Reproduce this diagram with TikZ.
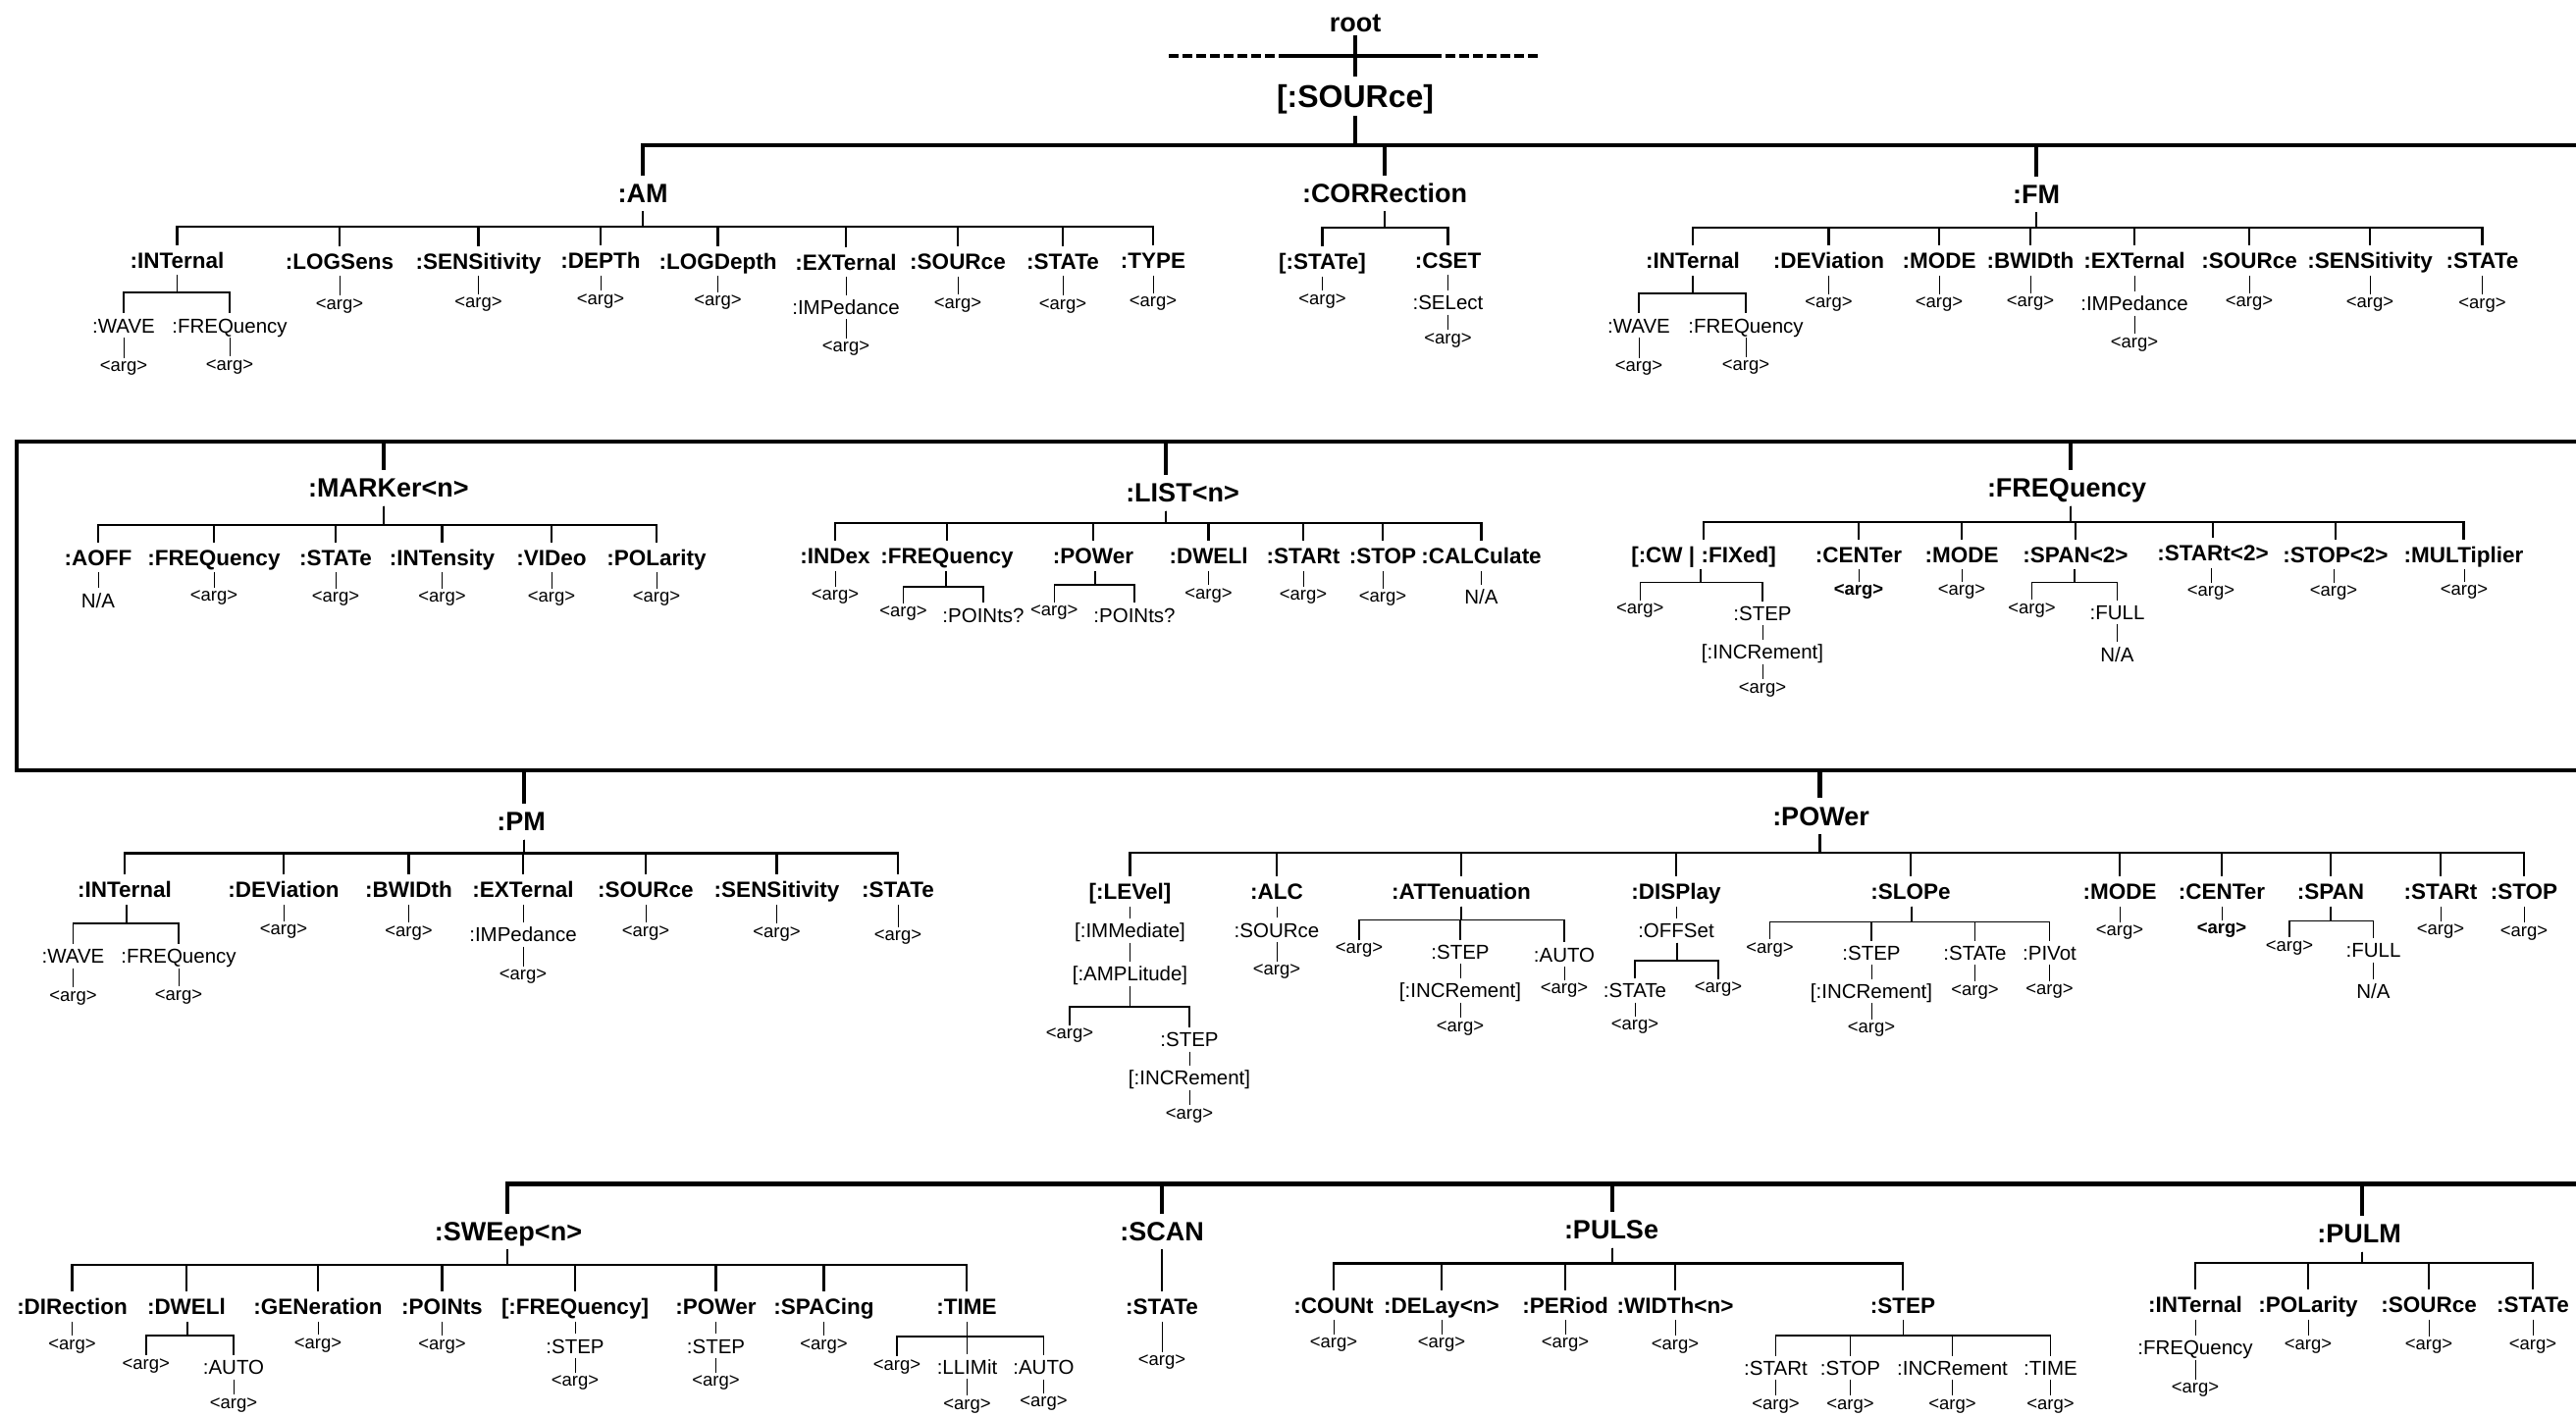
\documentclass[tikz,border=0pt]{standalone}
\usepackage{fontspec}
\setmainfont{Liberation Sans}
\newcommand{\tbar}[4]{\foreach \c in {#4}{\draw[#1] (#3 |- #2.south) -- (#3) -| (\c.north);}}
\newcommand{\lk}[3]{\draw[#1] (#3.north |- #2.south) -- (#3.north);}
\begin{document}
\begin{tikzpicture}[x=0.5pt,y=-0.5pt,
  sSrc/.style={font=\bfseries\fontsize{16}{18}\selectfont, inner xsep=1pt, inner ysep=1pt, text height=14.7pt, text depth=3.3pt},
  sRoot/.style={font=\bfseries\fontsize{13.5}{15}\selectfont, inner xsep=1pt, inner ysep=0.5pt, text height=10.5pt, text depth=1pt},
  sHdr/.style={font=\bfseries\fontsize{13.5}{15}\selectfont, inner xsep=1pt, inner ysep=1pt, text height=12.8pt, text depth=3.2pt},
  sCmd/.style={font=\bfseries\fontsize{11.25}{13}\selectfont, inner xsep=1pt, inner ysep=1pt, text height=10.5pt, text depth=2.5pt},
  sSub/.style={font=\fontsize{10.25}{12}\selectfont, inner xsep=1pt, inner ysep=0.8pt, text height=8.9pt, text depth=1.5pt},
  sArg/.style={font=\fontsize{9.25}{11}\selectfont, inner xsep=1pt, inner ysep=0.5pt, text height=6.3pt, text depth=2.7pt},
  sArgB/.style={sArg, font=\bfseries\fontsize{9.25}{11}\selectfont},
  sMain/.style={line width=2.3pt},
  sLv1/.style={line width=1.2pt},
  sLv2/.style={line width=0.8pt},
  sLf/.style={line width=0.5pt}
]
\useasboundingbox (0,0) rectangle (2625,1442);

% ---------------- top ----------------
\node[sRoot] (root) at (1381,23) {root};
\node[sSrc] (SRC) at (1381,98) {[:SOURce]};
\coordinate (dL) at (1191,57); \coordinate (sL) at (1303,57);
\coordinate (sR) at (1459,57); \coordinate (dR) at (1570,57);
\coordinate (mainR) at (2625,148);

\node[sHdr] (AM) at (655,197) {:AM};
\node[sHdr] (CORR) at (1411,197) {:CORRection};
\node[sHdr] (FM) at (2075,198) {:FM};

% AM
\coordinate (bAM) at (655,231);
\node[sCmd] (amINT) at (180.5,265) {:INTernal};
\node[sCmd] (amLOGS) at (346,266) {:LOGSens};
\node[sCmd] (amSENS) at (487.5,266) {:SENSitivity};
\node[sCmd] (amDEP) at (612,265.5) {:DEPTh};
\node[sCmd] (amLOGD) at (731.5,266) {:LOGDepth};
\node[sCmd] (amEXT) at (862,267) {:EXTernal};
\node[sCmd] (amSRC) at (976,266.5) {:SOURce};
\node[sCmd] (amSTA) at (1083,266) {:STATe};
\node[sCmd] (amTYP) at (1175,265.5) {:TYPE};
\coordinate (bAMI) at (180.5,298);
\node[sSub] (amW) at (126,331.7) {:WAVE};
\node[sSub] (amF) at (234,331.7) {:FREQuency};
\node[sArg] (amWa) at (126,375) {<arg>};
\node[sArg] (amFa) at (234,373.5) {<arg>};
\node[sArg] (amLOGSa) at (346,311.7) {<arg>};
\node[sArg] (amSENSa) at (487.5,310) {<arg>};
\node[sArg] (amDEPa) at (612,306.7) {<arg>};
\node[sArg] (amLOGDa) at (731.5,308.3) {<arg>};
\node[sSub] (amEXTi) at (862,313) {:IMPedance};
\node[sArg] (amEXTa) at (862,355) {<arg>};
\node[sArg] (amSRCa) at (976,310.7) {<arg>};
\node[sArg] (amSTAa) at (1083,311.7) {<arg>};
\node[sArg] (amTYPa) at (1175,309) {<arg>};

% CORRection
\coordinate (bCO) at (1411,231.7);
\node[sCmd] (coSTA) at (1347.5,266.7) {[:STATe]};
\node[sCmd] (coCSET) at (1475.5,265) {:CSET};
\node[sArg] (coSTAa) at (1347.5,306.7) {<arg>};
\node[sSub] (coSEL) at (1475.5,308.3) {:SELect};
\node[sArg] (coSELa) at (1475.5,346.7) {<arg>};

% FM
\coordinate (bFM) at (2075,231.7);
\node[sCmd] (fmINT) at (1725,265.7) {:INTernal};
\node[sCmd] (fmDEV) at (1863.5,265.7) {:DEViation};
\node[sCmd] (fmMODE) at (1976,265.7) {:MODE};
\node[sCmd] (fmBW) at (2069,265.7) {:BWIDth};
\node[sCmd] (fmEXT) at (2175,265.7) {:EXTernal};
\node[sCmd] (fmSRC) at (2292,265.7) {:SOURce};
\node[sCmd] (fmSENS) at (2415,265.7) {:SENSitivity};
\node[sCmd] (fmSTA) at (2529.5,265.7) {:STATe};
\coordinate (bFMI) at (1725,299);
\node[sSub] (fmW) at (1670,331.7) {:WAVE};
\node[sSub] (fmF) at (1779,331.7) {:FREQuency};
\node[sArg] (fmWa) at (1670,375) {<arg>};
\node[sArg] (fmFa) at (1779,374) {<arg>};
\node[sArg] (fmDEVa) at (1863.5,310) {<arg>};
\node[sArg] (fmMODEa) at (1976,310) {<arg>};
\node[sArg] (fmBWa) at (2069,309.3) {<arg>};
\node[sSub] (fmEXTi) at (2175,309.3) {:IMPedance};
\node[sArg] (fmEXTa) at (2175,350.7) {<arg>};
\node[sArg] (fmSRCa) at (2292,309.3) {<arg>};
\node[sArg] (fmSENSa) at (2415,310) {<arg>};
\node[sArg] (fmSTAa) at (2529.5,310.7) {<arg>};

% ---------------- frame ----------------
\coordinate (frTR) at (2625,450); \coordinate (frTL) at (17,450);
\coordinate (frBL) at (17,785); \coordinate (frBR) at (2625,785);

% MARKer
\node[sHdr] (MARK) at (396,497.3) {:MARKer<n>};
\coordinate (bMK) at (391,535);
\node[sCmd] (mkAOFF) at (100,568) {:AOFF};
\node[sCmd] (mkFREQ) at (218,568) {:FREQuency};
\node[sCmd] (mkSTA) at (342,568) {:STATe};
\node[sCmd] (mkINT) at (450.5,568) {:INTensity};
\node[sCmd] (mkVID) at (562,568) {:VIDeo};
\node[sCmd] (mkPOL) at (669,568) {:POLarity};
\node[sSub] (mkAOFFa) at (100,611.7) {N/A};
\node[sArg] (mkFREQa) at (218,609.3) {<arg>};
\node[sArg] (mkSTAa) at (342,610) {<arg>};
\node[sArg] (mkINTa) at (450.5,610) {<arg>};
\node[sArg] (mkVIDa) at (562,610) {<arg>};
\node[sArg] (mkPOLa) at (669,610) {<arg>};

% LIST
\node[sHdr] (LIST) at (1205,502.3) {:LIST<n>};
\coordinate (bLI) at (1188,532.7);
\node[sCmd] (liIDX) at (851,566.7) {:INDex};
\node[sCmd] (liFREQ) at (965,566.7) {:FREQuency};
\node[sCmd] (liPOW) at (1114,566.7) {:POWer};
\node[sCmd] (liDW) at (1231.5,566.7) {:DWELl};
\node[sCmd] (liSTA) at (1328,566.7) {:STARt};
\node[sCmd] (liSTO) at (1409,566.7) {:STOP};
\node[sCmd] (liCAL) at (1509.5,566.7) {:CALCulate};
\node[sArg] (liIDXa) at (851,608.3) {<arg>};
\coordinate (bLIF) at (964,597.7);
\node[sArg] (liFa) at (920.5,625) {<arg>};
\node[sSub] (liFp) at (1002,626.7) {:POINts?};
\coordinate (bLIP) at (1116,596);
\node[sArg] (liPa) at (1074.3,624) {<arg>};
\node[sSub] (liPp) at (1156,626.7) {:POINts?};
\node[sArg] (liDWa) at (1231.5,606.7) {<arg>};
\node[sArg] (liSTAa) at (1328,608.3) {<arg>};
\node[sArg] (liSTOa) at (1409,610) {<arg>};
\node[sSub] (liCALa) at (1509.5,608.3) {N/A};

% FREQuency
\node[sHdr] (FRQ) at (2106,497.3) {:FREQuency};
\coordinate (bFR) at (2110,531.7);
\node[sCmd] (frCW) at (1736,565) {[:CW | :FIXed]};
\node[sCmd] (frCEN) at (1894,565) {:CENTer};
\node[sCmd] (frMODE) at (1999,565) {:MODE};
\node[sCmd] (frSPAN) at (2115,565) {:SPAN<2>};
\node[sCmd] (frSTA) at (2255,563.5) {:STARt<2>};
\node[sCmd] (frSTO) at (2380,565) {:STOP<2>};
\node[sCmd] (frMUL) at (2510.5,565) {:MULTiplier};
\coordinate (bFRC) at (1733,593.3);
\node[sArg] (frCWa) at (1671.3,622.3) {<arg>};
\node[sSub] (frSTEP) at (1796,625) {:STEP};
\node[sSub] (frINC) at (1796,664.3) {[:INCRement]};
\node[sArg] (frINCa) at (1796,702.7) {<arg>};
\node[sArgB] (frCENa) at (1894,603.3) {<arg>};
\node[sArg] (frMODEa) at (1999,603.3) {<arg>};
\coordinate (bFRS) at (2114,593.3);
\node[sArg] (frSPa) at (2070.5,621.7) {<arg>};
\node[sSub] (frFULL) at (2157.5,624) {:FULL};
\node[sSub] (frNA) at (2157.5,666.7) {N/A};
\node[sArg] (frSTAa) at (2253,604.3) {<arg>};
\node[sArg] (frSTOa) at (2378,604.3) {<arg>};
\node[sArg] (frMULa) at (2511,603.3) {<arg>};

% PM
\node[sHdr] (PM) at (531,837.3) {:PM};
\coordinate (bPM) at (534,869.3);
\node[sCmd] (pmINT) at (127,906.7) {:INTernal};
\node[sCmd] (pmDEV) at (289,906.7) {:DEViation};
\node[sCmd] (pmBW) at (416.5,906.7) {:BWIDth};
\node[sCmd] (pmEXT) at (533,906.7) {:EXTernal};
\node[sCmd] (pmSRC) at (658,906.7) {:SOURce};
\node[sCmd] (pmSENS) at (791.5,906.7) {:SENSitivity};
\node[sCmd] (pmSTA) at (915,906.7) {:STATe};
\coordinate (bPMI) at (129,941);
\node[sSub] (pmW) at (74.5,974.3) {:WAVE};
\node[sSub] (pmF) at (182,974.3) {:FREQuency};
\node[sArg] (pmWa) at (74.5,1016.7) {<arg>};
\node[sArg] (pmFa) at (182,1015.7) {<arg>};
\node[sArg] (pmDEVa) at (289,949.3) {<arg>};
\node[sArg] (pmBWa) at (416.5,950.7) {<arg>};
\node[sSub] (pmEXTi) at (533,952.3) {:IMPedance};
\node[sArg] (pmEXTa) at (533,995) {<arg>};
\node[sArg] (pmSRCa) at (658,950.7) {<arg>};
\node[sArg] (pmSENSa) at (791.5,951.7) {<arg>};
\node[sArg] (pmSTAa) at (915,955) {<arg>};

% POWer
\node[sHdr] (POW) at (1855.5,831.7) {:POWer};
\coordinate (bPO) at (1854.5,869);
\node[sCmd] (poLEV) at (1151.5,908.3) {[:LEVel]};
\node[sCmd] (poALC) at (1301,908.3) {:ALC};
\node[sCmd] (poATT) at (1489,908.3) {:ATTenuation};
\node[sCmd] (poDISP) at (1708,908.3) {:DISPlay};
\node[sCmd] (poSLO) at (1947,908.3) {:SLOPe};
\node[sCmd] (poMODE) at (2160,908.3) {:MODE};
\node[sCmd] (poCEN) at (2264,908.3) {:CENTer};
\node[sCmd] (poSPAN) at (2375,908.3) {:SPAN};
\node[sCmd] (poSTA) at (2487,908.3) {:STARt};
\node[sCmd] (poSTO) at (2572,908.3) {:STOP};
\node[sSub] (poIMM) at (1151.5,948.3) {[:IMMediate]};
\node[sSub] (poAMP) at (1151.5,992.3) {[:AMPLitude]};
\coordinate (bPOA) at (1151.5,1026);
\node[sArg] (poAa) at (1090,1055) {<arg>};
\node[sSub] (poAS) at (1212,1059.3) {:STEP};
\node[sSub] (poAI) at (1212,1098.3) {[:INCRement]};
\node[sArg] (poAIa) at (1212,1136.7) {<arg>};
\node[sSub] (poALCs) at (1301,947.7) {:SOURce};
\node[sArg] (poALCa) at (1301,990) {<arg>};
\coordinate (bPOT) at (1489,937.3);
\node[sArg] (poTa) at (1385,968.3) {<arg>};
\node[sSub] (poTS) at (1488,970) {:STEP};
\node[sSub] (poTU) at (1594,972.7) {:AUTO};
\node[sSub] (poTI) at (1488,1009.3) {[:INCRement]};
\node[sArg] (poTIa) at (1488,1047.7) {<arg>};
\node[sArg] (poTUa) at (1594,1009.3) {<arg>};
\node[sSub] (poOFF) at (1708,948.3) {:OFFSet};
\coordinate (bPOO) at (1709,979);
\node[sSub] (poOS) at (1666,1009.3) {:STATe};
\node[sArg] (poOa) at (1751,1008.3) {<arg>};
\node[sArg] (poOSa) at (1666,1046) {<arg>};
\coordinate (bPOS) at (1948,939.3);
\node[sArg] (poSa) at (1803.5,967.7) {<arg>};
\node[sSub] (poSS) at (1907,971) {:STEP};
\node[sSub] (poST) at (2012.5,971) {:STATe};
\node[sSub] (poSP) at (2088.5,971) {:PIVot};
\node[sSub] (poSI) at (1907,1010) {[:INCRement]};
\node[sArg] (poSIa) at (1907,1049.3) {<arg>};
\node[sArg] (poSTa) at (2012.5,1010.7) {<arg>};
\node[sArg] (poSPa) at (2088.5,1010) {<arg>};
\node[sArg] (poMODEa) at (2160,950) {<arg>};
\node[sArgB] (poCENa) at (2264,948.3) {<arg>};
\coordinate (bPOP) at (2375,938.3);
\node[sArg] (poPa) at (2333,965.7) {<arg>};
\node[sSub] (poPF) at (2418.5,968.3) {:FULL};
\node[sSub] (poPNA) at (2418.5,1010) {N/A};
\node[sArg] (poSTAa) at (2487,949.3) {<arg>};
\node[sArg] (poSTOa) at (2572,950.7) {<arg>};

% ---------------- bottom section ----------------
\coordinate (s4R) at (2625,1206.7);
\node[sHdr] (SWE) at (518,1255) {:SWEep<n>};
\coordinate (bSW) at (517,1289);
\node[sCmd] (swDIR) at (73.5,1331.7) {:DIRection};
\node[sCmd] (swDW) at (190,1331.7) {:DWELl};
\node[sCmd] (swGEN) at (324,1331.7) {:GENeration};
\node[sCmd] (swPTS) at (450.5,1331.7) {:POINts};
\node[sCmd] (swFRQ) at (586,1331.7) {[:FREQuency]};
\node[sCmd] (swPOW) at (729.5,1331.7) {:POWer};
\node[sCmd] (swSPC) at (839.5,1331.7) {:SPACing};
\node[sCmd] (swTIM) at (985,1331.7) {:TIME};
\node[sArg] (swDIRa) at (73.5,1371.7) {<arg>};
\coordinate (bSWD) at (191,1360.7);
\node[sArg] (swDa) at (148.7,1391.7) {<arg>};
\node[sSub] (swDu) at (238,1393.3) {:AUTO};
\node[sArg] (swDua) at (238,1431.7) {<arg>};
\node[sArg] (swGENa) at (324,1370.7) {<arg>};
\node[sArg] (swPTSa) at (450.5,1371.7) {<arg>};
\node[sSub] (swFs) at (586,1371.7) {:STEP};
\node[sArg] (swFa) at (586,1409.3) {<arg>};
\node[sSub] (swPs) at (729.5,1371.7) {:STEP};
\node[sArg] (swPa) at (729.5,1409.3) {<arg>};
\node[sArg] (swSPCa) at (839.5,1371.7) {<arg>};
\coordinate (bSWT) at (985.5,1361.7);
\node[sArg] (swTa) at (914,1392.7) {<arg>};
\node[sSub] (swTL) at (985.5,1392.7) {:LLIMit};
\node[sSub] (swTU) at (1063.5,1393.3) {:AUTO};
\node[sArg] (swTLa) at (985.5,1432.5) {<arg>};
\node[sArg] (swTUa) at (1063.5,1430) {<arg>};

\node[sHdr] (SCAN) at (1184,1255) {:SCAN};
\node[sCmd] (scSTA) at (1184,1331.7) {:STATe};
\node[sArg] (scSTAa) at (1184,1388.3) {<arg>};

\node[sHdr] (PUL) at (1642,1253.3) {:PULSe};
\coordinate (bPU) at (1643,1287.3);
\node[sCmd] (puCNT) at (1359,1330) {:COUNt};
\node[sCmd] (puDEL) at (1469,1330) {:DELay<n>};
\node[sCmd] (puPER) at (1595,1330) {:PERiod};
\node[sCmd] (puWID) at (1707,1330) {:WIDTh<n>};
\node[sCmd] (puSTP) at (1939,1330) {:STEP};
\node[sArg] (puCNTa) at (1359,1370) {<arg>};
\node[sArg] (puDELa) at (1469,1370) {<arg>};
\node[sArg] (puPERa) at (1595,1370) {<arg>};
\node[sArg] (puWIDa) at (1707,1371.7) {<arg>};
\coordinate (bPUS) at (1939.5,1361);
\node[sSub] (psSTA) at (1809.5,1394) {:STARt};
\node[sSub] (psSTO) at (1885.5,1394) {:STOP};
\node[sSub] (psINC) at (1989.5,1394) {:INCRement};
\node[sSub] (psTIM) at (2089.5,1394) {:TIME};
\node[sArg] (psSTAa) at (1809.5,1432.5) {<arg>};
\node[sArg] (psSTOa) at (1885.5,1432.5) {<arg>};
\node[sArg] (psINCa) at (1989.5,1432.5) {<arg>};
\node[sArg] (psTIMa) at (2089.5,1432.5) {<arg>};

\node[sHdr] (PLM) at (2404,1257.3) {:PULM};
\coordinate (bPLM) at (2407,1286.7);
\node[sCmd] (pmmINT) at (2237,1329.3) {:INTernal};
\node[sCmd] (pmmPOL) at (2352,1329.3) {:POLarity};
\node[sCmd] (pmmSRC) at (2475,1329.3) {:SOURce};
\node[sCmd] (pmmSTA) at (2581,1329.3) {:STATe};
\node[sSub] (pmmFRQ) at (2237,1373.3) {:FREQuency};
\node[sArg] (pmmFRQa) at (2237,1416) {<arg>};
\node[sArg] (pmmPOLa) at (2352,1371.7) {<arg>};
\node[sArg] (pmmSRCa) at (2475,1372.3) {<arg>};
\node[sArg] (pmmSTAa) at (2581,1371.7) {<arg>};

% ================= connectors =================
\draw[sMain] (root.south) -- (SRC.north);
\draw[sMain,dash pattern=on 5pt off 2pt] (dL) -- (sL);
\draw[sMain] (sL) -- (sR);
\draw[sMain,dash pattern=on 5pt off 2pt] (sR) -- (dR);
\draw[sMain] (SRC.south) -- (SRC.south |- mainR);
\draw[sMain] (AM.north) |- (mainR);
\draw[sMain] (CORR.north) -- (CORR.north |- mainR);
\draw[sMain] (FM.north) -- (FM.north |- mainR);

\tbar{sLv1}{AM}{bAM}{amINT,amLOGS,amSENS,amDEP,amLOGD,amEXT,amSRC,amSTA,amTYP}
\tbar{sLv2}{amINT}{bAMI}{amW,amF}
\lk{sLf}{amW}{amWa} \lk{sLf}{amF}{amFa}
\lk{sLf}{amLOGS}{amLOGSa} \lk{sLf}{amSENS}{amSENSa} \lk{sLf}{amDEP}{amDEPa}
\lk{sLf}{amLOGD}{amLOGDa} \lk{sLf}{amEXT}{amEXTi} \lk{sLf}{amEXTi}{amEXTa}
\lk{sLf}{amSRC}{amSRCa} \lk{sLf}{amSTA}{amSTAa} \lk{sLf}{amTYP}{amTYPa}

\tbar{sLv1}{CORR}{bCO}{coSTA,coCSET}
\lk{sLf}{coSTA}{coSTAa} \lk{sLf}{coCSET}{coSEL} \lk{sLf}{coSEL}{coSELa}

\tbar{sLv1}{FM}{bFM}{fmINT,fmDEV,fmMODE,fmBW,fmEXT,fmSRC,fmSENS,fmSTA}
\tbar{sLv2}{fmINT}{bFMI}{fmW,fmF}
\lk{sLf}{fmW}{fmWa} \lk{sLf}{fmF}{fmFa}
\lk{sLf}{fmDEV}{fmDEVa} \lk{sLf}{fmMODE}{fmMODEa} \lk{sLf}{fmBW}{fmBWa}
\lk{sLf}{fmEXT}{fmEXTi} \lk{sLf}{fmEXTi}{fmEXTa}
\lk{sLf}{fmSRC}{fmSRCa} \lk{sLf}{fmSENS}{fmSENSa} \lk{sLf}{fmSTA}{fmSTAa}

% frame
\draw[sMain] (frTR) -- (frTL) -- (frBL) -- (frBR);
\draw[sMain] (bMK |- MARK.north) -- (bMK |- frTL);
\draw[sMain] (bLI |- LIST.north) -- (bLI |- frTL);
\draw[sMain] (bFR |- FRQ.north) -- (bFR |- frTL);
\draw[sMain] (bPM |- PM.north) -- (bPM |- frBL);
\draw[sMain] (bPO |- POW.north) -- (bPO |- frBL);

\tbar{sLv1}{MARK}{bMK}{mkAOFF,mkFREQ,mkSTA,mkINT,mkVID,mkPOL}
\lk{sLf}{mkAOFF}{mkAOFFa} \lk{sLf}{mkFREQ}{mkFREQa} \lk{sLf}{mkSTA}{mkSTAa}
\lk{sLf}{mkINT}{mkINTa} \lk{sLf}{mkVID}{mkVIDa} \lk{sLf}{mkPOL}{mkPOLa}

\tbar{sLv1}{LIST}{bLI}{liIDX,liFREQ,liPOW,liDW,liSTA,liSTO,liCAL}
\lk{sLf}{liIDX}{liIDXa}
\tbar{sLv2}{liFREQ}{bLIF}{liFa,liFp}
\tbar{sLv2}{liPOW}{bLIP}{liPa,liPp}
\lk{sLf}{liDW}{liDWa} \lk{sLf}{liSTA}{liSTAa} \lk{sLf}{liSTO}{liSTOa} \lk{sLf}{liCAL}{liCALa}

\tbar{sLv1}{FRQ}{bFR}{frCW,frCEN,frMODE,frSPAN,frSTA,frSTO,frMUL}
\tbar{sLv2}{frCW}{bFRC}{frCWa,frSTEP}
\lk{sLf}{frSTEP}{frINC} \lk{sLf}{frINC}{frINCa}
\lk{sLf}{frCEN}{frCENa} \lk{sLf}{frMODE}{frMODEa}
\tbar{sLv2}{frSPAN}{bFRS}{frSPa,frFULL}
\lk{sLf}{frFULL}{frNA}
\lk{sLf}{frSTA}{frSTAa} \lk{sLf}{frSTO}{frSTOa} \lk{sLf}{frMUL}{frMULa}

\tbar{sLv1}{PM}{bPM}{pmINT,pmDEV,pmBW,pmEXT,pmSRC,pmSENS,pmSTA}
\tbar{sLv2}{pmINT}{bPMI}{pmW,pmF}
\lk{sLf}{pmW}{pmWa} \lk{sLf}{pmF}{pmFa}
\lk{sLf}{pmDEV}{pmDEVa} \lk{sLf}{pmBW}{pmBWa}
\lk{sLf}{pmEXT}{pmEXTi} \lk{sLf}{pmEXTi}{pmEXTa}
\lk{sLf}{pmSRC}{pmSRCa} \lk{sLf}{pmSENS}{pmSENSa} \lk{sLf}{pmSTA}{pmSTAa}

\tbar{sLv1}{POW}{bPO}{poLEV,poALC,poATT,poDISP,poSLO,poMODE,poCEN,poSPAN,poSTA,poSTO}
\lk{sLf}{poLEV}{poIMM} \lk{sLf}{poIMM}{poAMP}
\tbar{sLv2}{poAMP}{bPOA}{poAa,poAS}
\lk{sLf}{poAS}{poAI} \lk{sLf}{poAI}{poAIa}
\lk{sLf}{poALC}{poALCs} \lk{sLf}{poALCs}{poALCa}
\tbar{sLv2}{poATT}{bPOT}{poTa,poTS,poTU}
\lk{sLf}{poTS}{poTI} \lk{sLf}{poTI}{poTIa} \lk{sLf}{poTU}{poTUa}
\lk{sLf}{poDISP}{poOFF}
\tbar{sLv2}{poOFF}{bPOO}{poOS,poOa}
\lk{sLf}{poOS}{poOSa}
\tbar{sLv2}{poSLO}{bPOS}{poSa,poSS,poST,poSP}
\lk{sLf}{poSS}{poSI} \lk{sLf}{poSI}{poSIa} \lk{sLf}{poST}{poSTa} \lk{sLf}{poSP}{poSPa}
\lk{sLf}{poMODE}{poMODEa} \lk{sLf}{poCEN}{poCENa}
\tbar{sLv2}{poSPAN}{bPOP}{poPa,poPF}
\lk{sLf}{poPF}{poPNA}
\lk{sLf}{poSTA}{poSTAa} \lk{sLf}{poSTO}{poSTOa}

% bottom
\draw[sMain] (bSW |- SWE.north) |- (s4R);
\draw[sMain] (SCAN.north) -- (SCAN.north |- s4R);
\draw[sMain] (bPU |- PUL.north) -- (bPU |- s4R);
\draw[sMain] (bPLM |- PLM.north) -- (bPLM |- s4R);

\tbar{sLv1}{SWE}{bSW}{swDIR,swDW,swGEN,swPTS,swFRQ,swPOW,swSPC,swTIM}
\lk{sLf}{swDIR}{swDIRa}
\tbar{sLv2}{swDW}{bSWD}{swDa,swDu}
\lk{sLf}{swDu}{swDua}
\lk{sLf}{swGEN}{swGENa} \lk{sLf}{swPTS}{swPTSa}
\lk{sLf}{swFRQ}{swFs} \lk{sLf}{swFs}{swFa}
\lk{sLf}{swPOW}{swPs} \lk{sLf}{swPs}{swPa}
\lk{sLf}{swSPC}{swSPCa}
\tbar{sLv2}{swTIM}{bSWT}{swTa,swTL,swTU}
\lk{sLf}{swTL}{swTLa} \lk{sLf}{swTU}{swTUa}

\lk{sLv1}{SCAN}{scSTA} \lk{sLf}{scSTA}{scSTAa}

\tbar{sLv1}{PUL}{bPU}{puCNT,puDEL,puPER,puWID,puSTP}
\lk{sLf}{puCNT}{puCNTa} \lk{sLf}{puDEL}{puDELa} \lk{sLf}{puPER}{puPERa} \lk{sLf}{puWID}{puWIDa}
\tbar{sLv2}{puSTP}{bPUS}{psSTA,psSTO,psINC,psTIM}
\lk{sLf}{psSTA}{psSTAa} \lk{sLf}{psSTO}{psSTOa} \lk{sLf}{psINC}{psINCa} \lk{sLf}{psTIM}{psTIMa}

\tbar{sLv1}{PLM}{bPLM}{pmmINT,pmmPOL,pmmSRC,pmmSTA}
\lk{sLf}{pmmINT}{pmmFRQ} \lk{sLf}{pmmFRQ}{pmmFRQa}
\lk{sLf}{pmmPOL}{pmmPOLa} \lk{sLf}{pmmSRC}{pmmSRCa} \lk{sLf}{pmmSTA}{pmmSTAa}
\end{tikzpicture}
\end{document}
